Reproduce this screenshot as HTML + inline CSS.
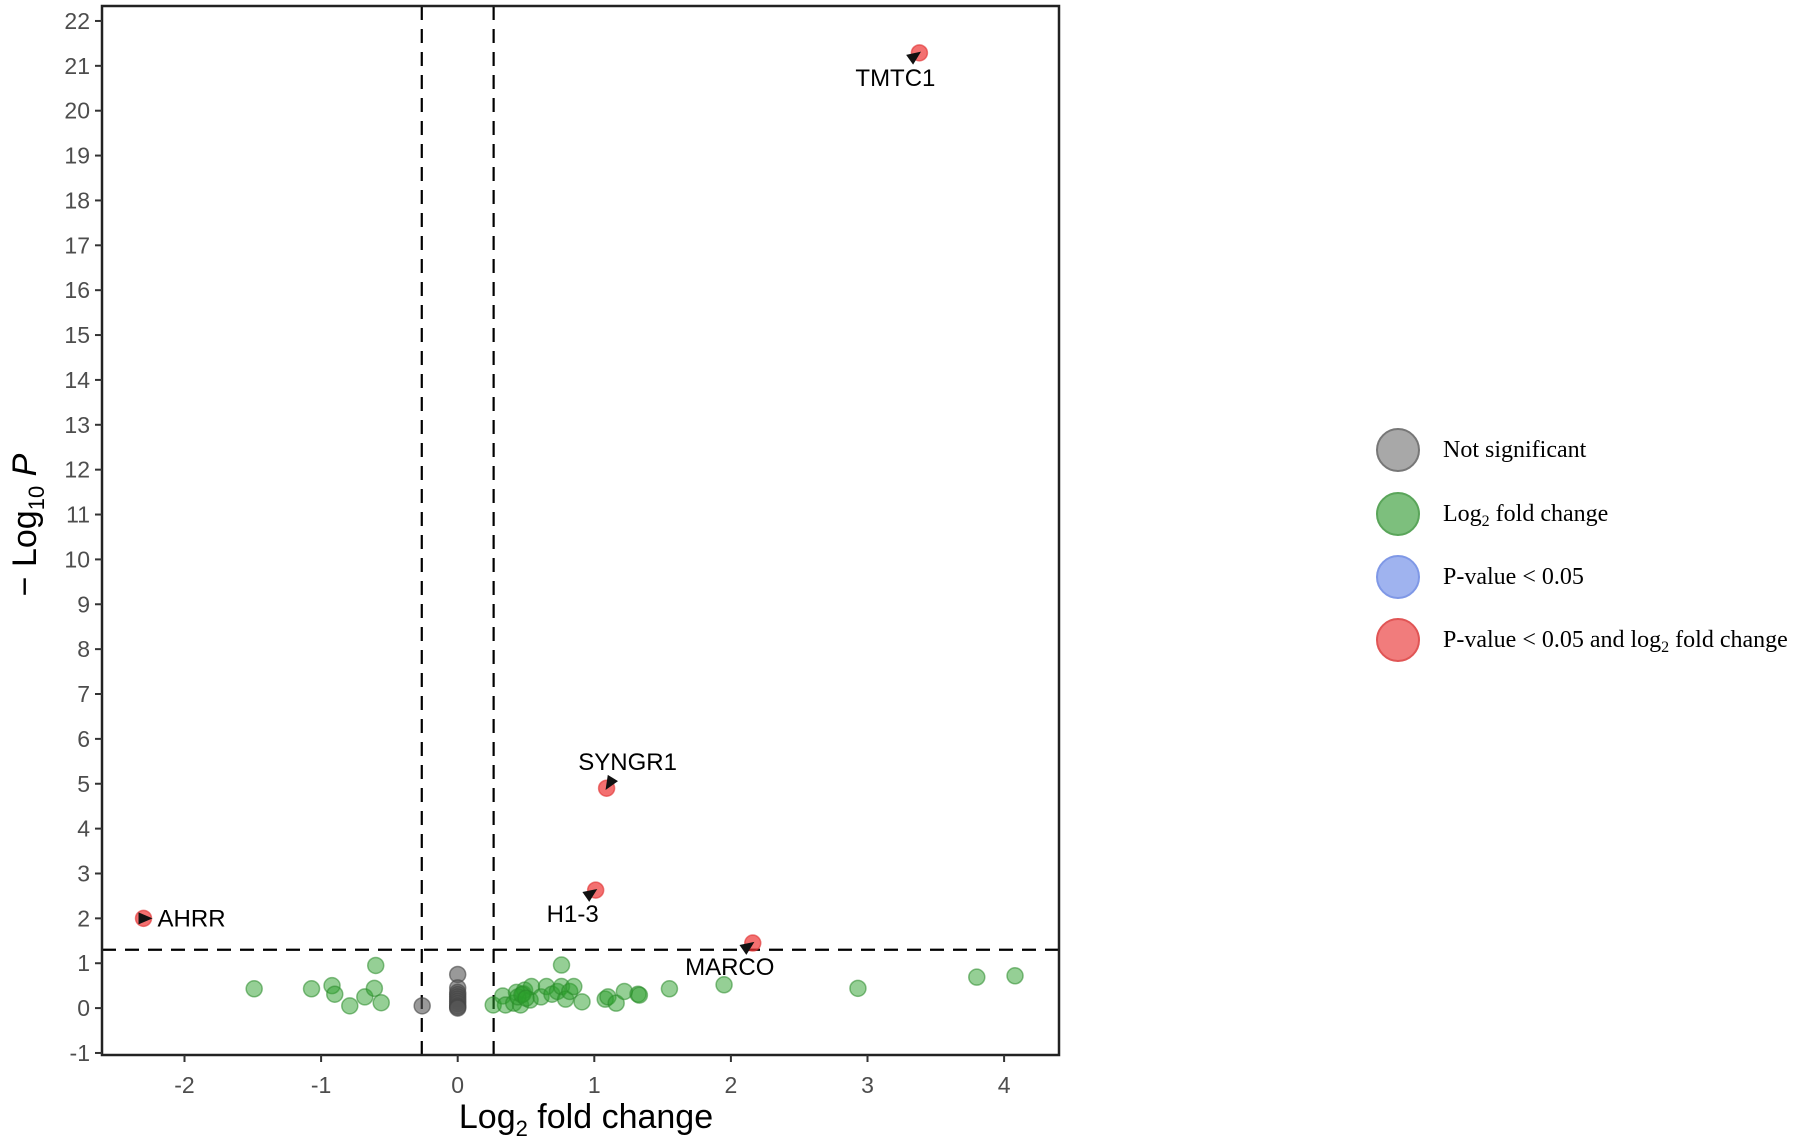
<!DOCTYPE html>
<html><head><meta charset="utf-8"><style>
html,body{margin:0;padding:0;background:#fff;}
svg{display:block;}
text{font-family:"Liberation Sans",sans-serif;}
text.serif{font-family:"Liberation Serif",serif;}
</style></head><body>
<svg id="chart" width="1808" height="1142" viewBox="0 0 1808 1142" xmlns="http://www.w3.org/2000/svg">
<g id="grid"></g>
<g id="marks"></g>
<g id="ann"></g>
<g id="axes"></g>
<g>
  <g><circle cx="1398" cy="450" r="21" fill="#999" fill-opacity="0.85" stroke="#777" stroke-width="2"/><text class="serif" x="1443" y="457" font-size="24">Not significant</text></g>
  <g><circle cx="1398" cy="514" r="21" fill="#7dbf7d" stroke="#5aa55a" stroke-width="2"/><text class="serif" x="1443" y="521" font-size="24">Log<tspan font-size="16" dy="5">2</tspan><tspan dy="-5"> fold change</tspan></text></g>
  <g><circle cx="1398" cy="577" r="21" fill="#9fb3ef" stroke="#7f98e6" stroke-width="2"/><text class="serif" x="1443" y="584" font-size="24">P-value &lt; 0.05</text></g>
  <g><circle cx="1398" cy="640" r="21" fill="#f17c7c" stroke="#e05555" stroke-width="2"/><text class="serif" x="1443" y="647" font-size="24">P-value &lt; 0.05 and log<tspan font-size="16" dy="5">2</tspan><tspan dy="-5"> fold change</tspan></text></g>
</g>
</svg>
<script>
const xTicks = [-2,-1,0,1,2,3,4];
const yTicks = [-1,0,1,2,3,4,5,6,7,8,9,10,11,12,13,14,15,16,17,18,19,20,21,22];
const greenX = [-1.49,-1.07,-0.92,-0.90,-0.79,-0.68,-0.61,-0.60,-0.56,0.76,0.26,0.33,0.35,0.41,0.43,0.46,0.48,0.49,0.53,0.54,0.61,0.65,0.69,0.73,0.76,0.79,0.82,0.85,0.91,1.08,1.10,1.16,1.22,1.32,1.33,1.55,1.95,2.93,3.80,4.08,0.44,0.47,0.50];
const greenY = [0.43,0.43,0.50,0.31,0.05,0.25,0.44,0.95,0.12,0.96,0.07,0.27,0.07,0.11,0.35,0.07,0.32,0.40,0.18,0.48,0.25,0.48,0.31,0.37,0.48,0.20,0.37,0.48,0.14,0.20,0.25,0.11,0.37,0.31,0.29,0.43,0.52,0.44,0.69,0.72,0.25,0.30,0.22];
const grayX = [-0.26,0,0,0,0,0,0,0,0,0,0,0];
const grayY = [0.05,0.75,0.45,0.35,0.30,0.25,0.20,0.15,0.10,0.05,0.02,0];
const redNames = ["TMTC1","SYNGR1","H1-3","AHRR","MARCO"];
const redX = [3.38,1.09,1.01,-2.30,2.16];
const redY = [21.29,4.90,2.63,2.00,1.45];
const fcCut = 0.263, pCut = 1.301;

const X0=457.7, XU=136.6, Y0=1008.1, YU=44.87;
const L=102, R=1059, T=6, B=1055;
const sx=v=>X0+v*XU, sy=v=>Y0-v*YU;
const NS="http://www.w3.org/2000/svg";
function mk(tag,attrs,parent){const e=document.createElementNS(NS,tag);for(const k in attrs)e.setAttribute(k,attrs[k]);parent.appendChild(e);return e;}
const marks=document.getElementById('marks'),axes=document.getElementById('axes'),ann=document.getElementById('ann'),grid=document.getElementById('grid');

[-fcCut,fcCut].forEach(v=>{const l=mk('line',{x1:sx(v),x2:sx(v),y1:T,y2:B,stroke:'#000','stroke-width':2.2,'stroke-dasharray':'14 9'},grid);

});
const hl=mk('line',{x1:L,x2:R,y1:sy(pCut),y2:sy(pCut),stroke:'#000','stroke-width':2.2,'stroke-dasharray':'14 9'},grid);



grayX.forEach((v,i)=>{const c=mk('circle',{cx:sx(v),cy:sy(grayY[i]),r:8,fill:'#555','fill-opacity':0.6,stroke:'#444','stroke-opacity':0.6,'stroke-width':1.5},marks);

});
greenX.forEach((v,i)=>{const c=mk('circle',{cx:sx(v),cy:sy(greenY[i]),r:8,fill:'#2ca02c','fill-opacity':0.5,stroke:'#2a8a2a','stroke-opacity':0.55,'stroke-width':1.5},marks);

});
const off=[[-24,25,'middle'],[21,-26,'middle'],[-23,24,'middle'],[14,8,'start'],[-23,24,'middle']];
redX.forEach((v,i)=>{const px=sx(v),py=sy(redY[i]);
const c=mk('circle',{cx:px,cy:py,r:8,fill:'#ee3333','fill-opacity':0.7,stroke:'#e03030','stroke-opacity':0.6,'stroke-width':1.5},marks);


const o=off[i];const tx=px+o[0],ty=py+o[1];
let ang=Math.atan2(py-(ty-8),px-tx);
let ax=px+Math.cos(ang)*2,ay=py+Math.sin(ang)*2;
if(i===3){ang=0;ax=px+9;ay=py;}
const len=14,hw=6;
const bx=ax-Math.cos(ang)*len,by=ay-Math.sin(ang)*len;
const p2=[bx-Math.sin(ang)*hw,by+Math.cos(ang)*hw],p3=[bx+Math.sin(ang)*hw,by-Math.cos(ang)*hw];
const a=mk('polygon',{points:[[ax,ay],p2,p3].map(p=>p.join(',')).join(' '),fill:'#111'},ann);


const t=mk('text',{x:tx,y:ty+(i===3?0:8),'font-size':24,'text-anchor':o[2],fill:'#000'},ann);t.textContent=redNames[i];

});

const fr=mk('rect',{x:L,y:T,width:R-L,height:B-T,fill:'none',stroke:'#222','stroke-width':2.5},axes);


xTicks.forEach(v=>{const g=mk('g',{},axes);


mk('line',{x1:sx(v),x2:sx(v),y1:B,y2:B+7,stroke:'#333','stroke-width':2},g);
const t=mk('text',{x:sx(v),y:B+38,'font-size':23,'text-anchor':'middle',fill:'#4d4d4d'},g);t.textContent=v;});
yTicks.forEach(v=>{const g=mk('g',{},axes);


mk('line',{x1:L-7,x2:L,y1:sy(v),y2:sy(v),stroke:'#333','stroke-width':2},g);
const t=mk('text',{x:L-12,y:sy(v)+8,'font-size':23,'text-anchor':'end',fill:'#4d4d4d'},g);t.textContent=v;});
const xt=mk('text',{x:586,y:1128,'font-size':34,'text-anchor':'middle',fill:'#000'},axes);
xt.innerHTML='Log<tspan font-size="22" dy="8">2</tspan><tspan dy="-8"> fold change</tspan>';


const yt=mk('text',{x:0,y:0,'font-size':34,'text-anchor':'middle',fill:'#000',transform:'translate(36,525) rotate(-90)'},axes);
yt.innerHTML='− Log<tspan font-size="22" dy="8">10</tspan><tspan dy="-8"> </tspan><tspan font-style="italic">P</tspan>';


</script>
</body></html>
